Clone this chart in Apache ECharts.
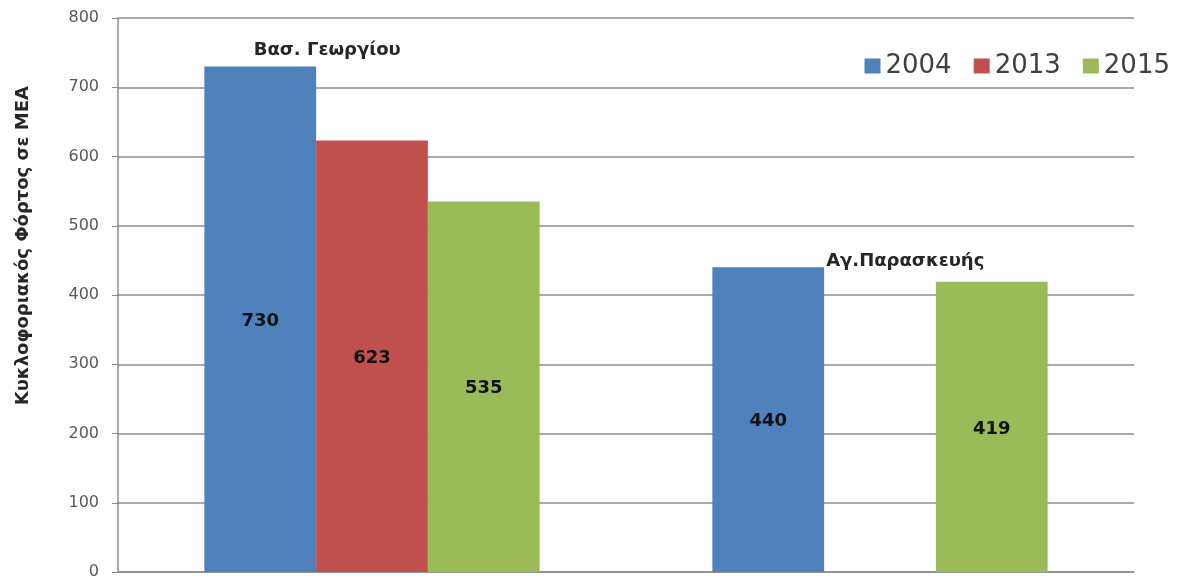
<!DOCTYPE html>
<html>
<head>
<meta charset="utf-8">
<script src="https://cdn.jsdelivr.net/npm/echarts@6/dist/echarts.min.js"></script>
<style>
html,body{margin:0;padding:0;background:#fff;}
#chart{width:1193px;height:580px;}
</style>
</head>
<body>
<div id="chart"></div>
<script>
const categories = ['Βασ. Γεωργίου', 'Αγ.Παρασκευής'];
const seriesNames = ['2004', '2013', '2015'];
const values2004 = [730, 440];
const values2013 = [623, null];
const values2015 = [535, 419];
const yTicks = [0, 100, 200, 300, 400, 500, 600, 700, 800];
const yAxisTitle = 'Κυκλοφοριακός Φόρτος σε ΜΕΑ';
const colors = ['#4F81BD', '#C0504D', '#9BBB59'];

const chart = echarts.init(document.getElementById('chart'));

const dataLabel = {
  show: true,
  position: 'inside',
  offset: [0, 2],
  fontFamily: 'DejaVu Sans',
  fontWeight: 'bold',
  fontSize: 18,
  color: '#111'
};

function makeSeries(name, data, color, extra) {
  return Object.assign({
    name: name,
    type: 'bar',
    data: data,
    itemStyle: { color: color },
    barGap: '0%',
    barCategoryGap: '34%',
    label: dataLabel,
    emphasis: { disabled: true }
  }, extra || {});
}

const option = {
  animation: false,
  grid: { left: 118, right: 59, top: 18, bottom: 7, containLabel: false },
  legend: {
    data: seriesNames,
    right: 18,
    top: 48,
    itemWidth: 16,
    itemHeight: 15,
    itemGap: 22,
    icon: 'rect',
    textStyle: { fontFamily: 'DejaVu Sans', fontSize: 26, color: '#404040' }
  },
  xAxis: {
    type: 'category',
    data: categories,
    axisLine: { show: true, lineStyle: { color: '#8c8c8c', width: 1.5 } },
    axisTick: { show: false },
    axisLabel: { show: false }
  },
  yAxis: {
    type: 'value',
    min: yTicks[0],
    max: yTicks[yTicks.length - 1],
    interval: 100,
    axisLine: { show: true, lineStyle: { color: '#8c8c8c', width: 1.5 } },
    axisTick: { show: true, length: 6, lineStyle: { color: '#8c8c8c' } },
    axisLabel: {
      margin: 19,
      fontFamily: 'DejaVu Sans',
      fontSize: 16,
      color: '#595959'
    },
    splitLine: { show: true, lineStyle: { color: '#8c8c8c', width: 1.5 } }
  },
  graphic: [{
    type: 'text',
    left: 14,
    top: 86,
    rotation: Math.PI / 2,
    style: {
      text: yAxisTitle,
      fontFamily: 'DejaVu Sans',
      fontWeight: 'bold',
      fontSize: 18,
      fill: '#262626'
    }
  }],
  series: [
    makeSeries(seriesNames[0], values2004, colors[0], {
      markPoint: {
        symbol: 'rect',
        symbolSize: 0,
        silent: true,
        label: {
          show: true,
          formatter: '{b}',
          fontFamily: 'DejaVu Sans',
          fontWeight: 'bold',
          fontSize: 18,
          color: '#262626'
        },
        data: [
          { name: categories[0], coord: [0, values2004[0]], label: { offset: [67, -16] } },
          { name: categories[1], coord: [1, values2004[1]], label: { offset: [137, -6] } }
        ]
      }
    }),
    makeSeries(seriesNames[1], values2013, colors[1]),
    makeSeries(seriesNames[2], values2015, colors[2])
  ]
};
chart.setOption(option);
</script>
</body>
</html>
